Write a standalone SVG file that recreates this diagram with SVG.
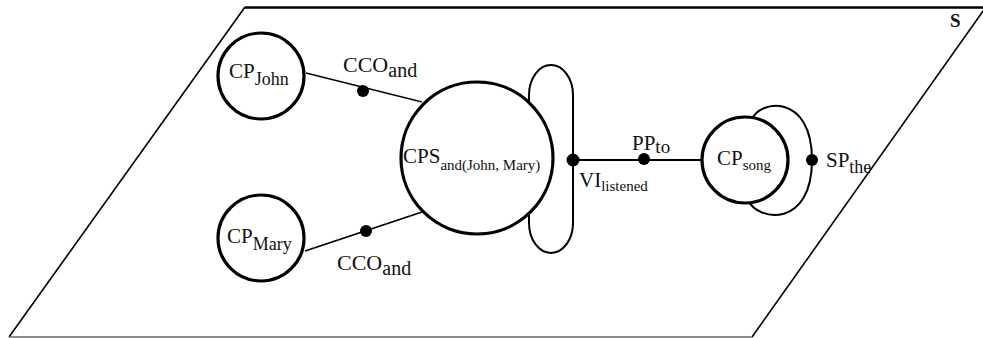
<svg xmlns="http://www.w3.org/2000/svg" width="983" height="338" viewBox="0 0 983 338">
<style>
text{font-family:"Liberation Serif","Times New Roman",serif;fill:#111}
.big{fill:#fff;stroke:#000;stroke-width:3.2}
.dot{fill:#000}
.edge{fill:none;stroke:#000;stroke-width:1.8}
.loop{fill:none;stroke:#000;stroke-width:2}
.frame{fill:none;stroke:#000;stroke-width:1.6}
</style>
<g id="frame">
<line x1="245" y1="7.5" x2="983" y2="7.5" stroke="#000" stroke-width="2.4"/>
<line class="frame" x1="245" y1="7" x2="9" y2="337"/>
<line class="frame" x1="986" y1="7" x2="752" y2="337"/>
<line x1="9" y1="337" x2="752" y2="337" stroke="#666" stroke-width="1.6"/>
<text x="950" y="27" font-size="19" font-weight="bold">S</text>
</g>
<g id="connectors">
<line class="edge" x1="306" y1="73" x2="422" y2="102"/>
<line class="edge" x1="305" y1="251" x2="422" y2="212"/>
<line class="edge" x1="573" y1="160" x2="702" y2="160"/>
<rect class="loop" x="529" y="65" width="44" height="188" rx="22" ry="30"/>
<path class="loop" d="M 752 120 C 758 100 812 92 812 160 C 812 228 758 222 748 200"/>
</g>
<g id="CP_John">
<circle class="big" cx="261" cy="76" r="43"/>
<text x="229" y="78" font-size="21">CP<tspan y="85" font-size="18">John</tspan></text>
</g>
<g id="CP_Mary">
<circle class="big" cx="261" cy="238" r="43"/>
<text x="227" y="243" font-size="21">CP<tspan y="250" font-size="18">Mary</tspan></text>
</g>
<g id="CPS">
<circle class="big" cx="477" cy="158" r="76"/>
<text x="403" y="163" font-size="21">CPS<tspan y="170" font-size="15">and(John, Mary)</tspan></text>
</g>
<g id="CP_song">
<circle class="big" cx="745" cy="160" r="43"/>
<text x="717" y="165" font-size="21">CP<tspan y="170" font-size="15">song</tspan></text>
</g>
<g id="CCO_and_top">
<circle class="dot" cx="363" cy="91" r="6"/>
<text x="343" y="72" font-size="22">CCO<tspan y="77" font-size="20">and</tspan></text>
</g>
<g id="CCO_and_bottom">
<circle class="dot" cx="366" cy="231" r="6"/>
<text x="337" y="270" font-size="22">CCO<tspan y="275" font-size="20">and</tspan></text>
</g>
<g id="VI_listened">
<circle class="dot" cx="573" cy="160" r="6.5"/>
<text x="579" y="187" font-size="21">VI<tspan y="191" font-size="15">listened</tspan></text>
</g>
<g id="PP_to">
<circle class="dot" cx="644" cy="159" r="6"/>
<text x="632" y="150" font-size="21">PP<tspan y="153" font-size="19">to</tspan></text>
</g>
<g id="SP_the">
<circle class="dot" cx="812" cy="160" r="6"/>
<text x="826" y="167" font-size="21">SP<tspan y="173" font-size="18">the</tspan></text>
</g>
</svg>
